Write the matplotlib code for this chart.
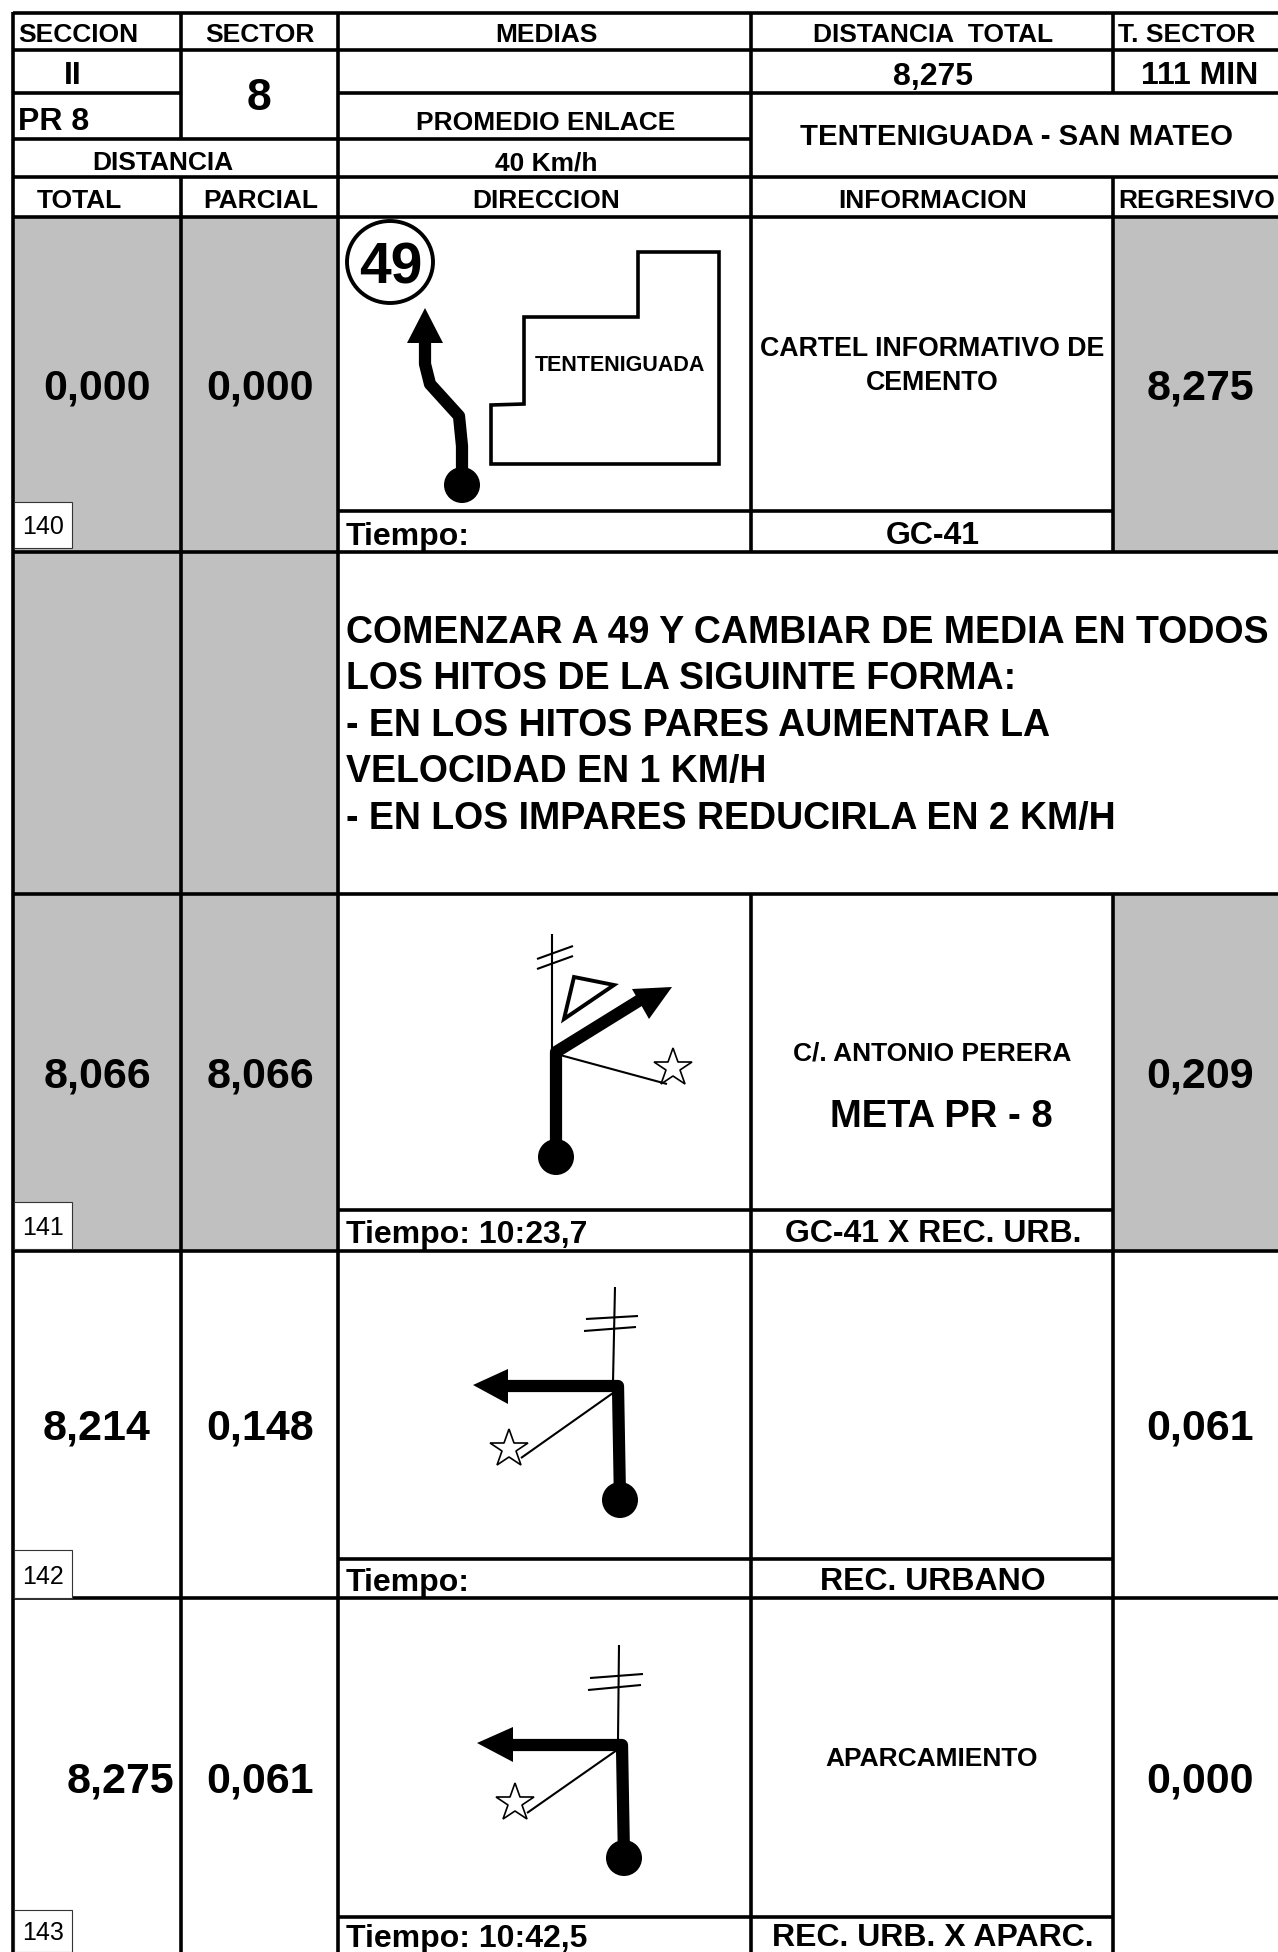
import matplotlib
matplotlib.use("Agg")
import matplotlib.pyplot as plt
from matplotlib.patches import Circle, Ellipse, Polygon, Rectangle

plt.rcParams["font.family"] = ["Liberation Sans", "DejaVu Sans"]

# ---- table content ----
HEAD_TOP = ["SECTOR", "MEDIAS", "DISTANCIA  TOTAL"]
HEAD_COLS = ["TOTAL", "PARCIAL", "DIRECCION", "INFORMACION"]
TOTAL = ["0,000", "8,066", "8,214", "8,275"]
PARCIAL = ["0,000", "8,066", "0,148", "0,061"]
REGRESIVO = ["8,275", "0,209", "0,061", "0,000"]
TIEMPO = ["Tiempo:", "Tiempo: 10:23,7", "Tiempo:", "Tiempo: 10:42,5"]
VIA = ["GC-41", "GC-41 X REC. URB.", "REC. URBANO", "REC. URB. X APARC."]
HITO = ["140", "141", "142", "143"]
NOTE = ["COMENZAR A 49 Y CAMBIAR DE MEDIA EN TODOS",
        "LOS HITOS DE LA SIGUINTE FORMA:",
        "- EN LOS HITOS PARES AUMENTAR LA",
        "VELOCIDAD EN 1 KM/H",
        "- EN LOS IMPARES REDUCIRLA EN 2 KM/H"]

# ---- layout, all in reference pixels ----
W, H = 1278, 1952
X0, X1, X2, X3, X4 = 13, 181, 338, 751, 1113
GRAY = "#C0C0C0"
LW = 2.6
C_TOT, C_PAR, C_DIR, C_INF, C_REG = 97, 260, 546, 933, 1200
ROW_Y = [383.5, 1072, 1424, 1777]       # middle of the big numbers
TIEMPO_Y = [534, 1232, 1580, 1936]
HITO_BOX = [(502, 548), (1202, 1249), (1550, 1598), (1910, 1952)]

fig = plt.figure(figsize=(W/100, H/100), dpi=100)
ax = fig.add_axes([0, 0, 1, 1])
ax.set_xlim(0, W); ax.set_ylim(H, 0); ax.axis("off")

def t(x, y, s, size=19, ha="center", weight="bold"):
    ax.text(x, y, s, fontsize=size, ha=ha, va="center_baseline", fontweight=weight, color="black", zorder=6)

def fill(x0, x1, y0, y1):
    ax.add_patch(Rectangle((x0, y0), x1-x0, y1-y0, fc=GRAY, ec="none", zorder=0))

def hl(y, *spans):
    for a, b in spans:
        ax.plot([a, b], [y, y], color="black", lw=LW, solid_capstyle="butt", zorder=4)

def vl(x, *spans):
    for a, b in spans:
        ax.plot([x, x], [a, b], color="black", lw=LW, solid_capstyle="butt", zorder=4)

def thin(pts, lw=1.5):
    ax.plot(*zip(*pts), color="black", lw=lw, solid_capstyle="butt", zorder=3)

def route(pts, head, dot):
    ax.plot(*zip(*pts), color="black", lw=8.8, solid_joinstyle="round", solid_capstyle="butt", zorder=3)
    ax.add_patch(Polygon(head, closed=True, fc="black", ec="none", zorder=3))
    ax.add_patch(Circle(dot, 18, fc="black", ec="none", zorder=3))

def star(x, y):
    ax.plot([x], [y], marker="*", ms=29, mfc="white", mec="black", mew=1.2, zorder=5)

# gray cells
for a, b in [(217, 552), (552, 894), (894, 1251)]:
    fill(X0, X1, a, b); fill(X1, X2, a, b)
fill(X4, W, 217, 552); fill(X4, W, 894, 1251)

# grid
hl(13, (X0, W)); hl(50, (X0, W)); hl(93, (X0, X1), (X2, W))
hl(139, (X0, X3)); hl(177, (X0, W)); hl(217, (X0, W))
for y in [511, 1210, 1559, 1917]:
    hl(y, (X2, X4))
for y in [552, 894, 1251, 1598]:
    hl(y, (X0, W))
vl(X0, (12, H)); vl(X1, (12, 139), (177, H)); vl(X2, (12, H))
vl(X3, (12, 552), (894, H)); vl(X4, (12, 93), (177, 552), (894, H))

# header
t(18, 32, "SECCION", ha="left")
for x, s in zip([C_PAR, C_DIR, C_INF], HEAD_TOP):
    t(x, 32, s)
t(1118, 32, "T. SECTOR", ha="left")
t(73, 72, "II", 23); t(259, 94, "8", 32)
t(C_INF, 73, "8,275", 23); t(C_REG, 72, "111 MIN", 23)
t(18, 119, "PR 8", 23, ha="left")
t(C_DIR, 120, "PROMEDIO ENLACE")
t(1017, 134, "TENTENIGUADA - SAN MATEO", 21.2)
t(163, 161, "DISTANCIA"); t(C_DIR, 161, "40 Km/h")
for x, s in zip([79, 261, C_DIR, C_INF], HEAD_COLS):
    t(x, 199, s)
t(1118, 199, "REGRESIVO", ha="left")

# rows
for i in range(4):
    tx = 121 if i == 3 else C_TOT
    t(tx, ROW_Y[i], TOTAL[i], 31)
    t(C_PAR, ROW_Y[i], PARCIAL[i], 31)
    t(C_REG, ROW_Y[i], REGRESIVO[i], 31)
    t(346, TIEMPO_Y[i], TIEMPO[i], 23, ha="left")
    t(C_INF, TIEMPO_Y[i]-1.5, VIA[i], 23)
    a, b = HITO_BOX[i]
    ax.add_patch(Rectangle((14, a), 58, b-a, fc="white", ec="#333333", lw=0.8, zorder=5))
    t(43, (a+b)/2, HITO[i], 18, weight="normal")

# instructions
for y, s in zip([629, 675, 722, 768, 815], NOTE):
    t(346, y, s, 27, ha="left")

# info column
t(932, 346, "CARTEL INFORMATIVO DE", 19.3); t(932, 380, "CEMENTO", 19.3)
t(932, 1051, "C/. ANTONIO PERERA"); t(941, 1113, "META PR - 8", 27.5)
t(932, 1757, "APARCAMIENTO")

# diagram row 1
ax.add_patch(Ellipse((390, 262), 86, 82, fc="white", ec="black", lw=2.8, zorder=3))
t(391, 263, "49", 41)
ax.add_patch(Polygon([(638, 252), (719, 252), (719, 464), (491, 464), (491, 405), (524, 404), (524, 317), (638, 317)],
                     closed=True, fc="none", ec="black", lw=2.6, zorder=3))
t(620, 363, "TENTENIGUADA", 15.5)
route([(462, 485), (462, 446), (459, 416), (430, 384), (425, 364), (425, 340)],
      [(425, 308), (407, 343), (443, 343)], (462, 485))

# diagram row 3
thin([(552, 934), (552, 1050)]); thin([(537, 959), (573, 946)]); thin([(537, 969), (573, 956)])
ax.add_patch(Polygon([(574, 977), (614, 985), (564, 1019)], closed=True, fc="none", ec="black", lw=2.8, zorder=3))
route([(556, 1157), (556, 1052), (640, 1000)], [(672, 987), (632, 989), (649, 1019)], (556, 1157))
thin([(560, 1055), (667, 1084)]); star(673, 1068)

# diagram row 4
thin([(615, 1287), (613, 1382)]); thin([(586, 1319), (638, 1316)]); thin([(584, 1331), (636, 1327)])
route([(620, 1500), (618, 1386), (505, 1386)], [(473, 1385), (508, 1369), (508, 1404)], (620, 1500))
thin([(613, 1393), (521, 1458)]); star(509, 1449)

# diagram row 5
thin([(619, 1645), (618, 1740)]); thin([(590, 1678), (643, 1674)]); thin([(588, 1690), (641, 1685)])
route([(624, 1858), (622, 1745), (510, 1745)], [(477, 1743), (513, 1727), (513, 1762)], (624, 1858))
thin([(617, 1750), (527, 1813)]); star(515, 1803)

fig.savefig("out.png", dpi=100)
